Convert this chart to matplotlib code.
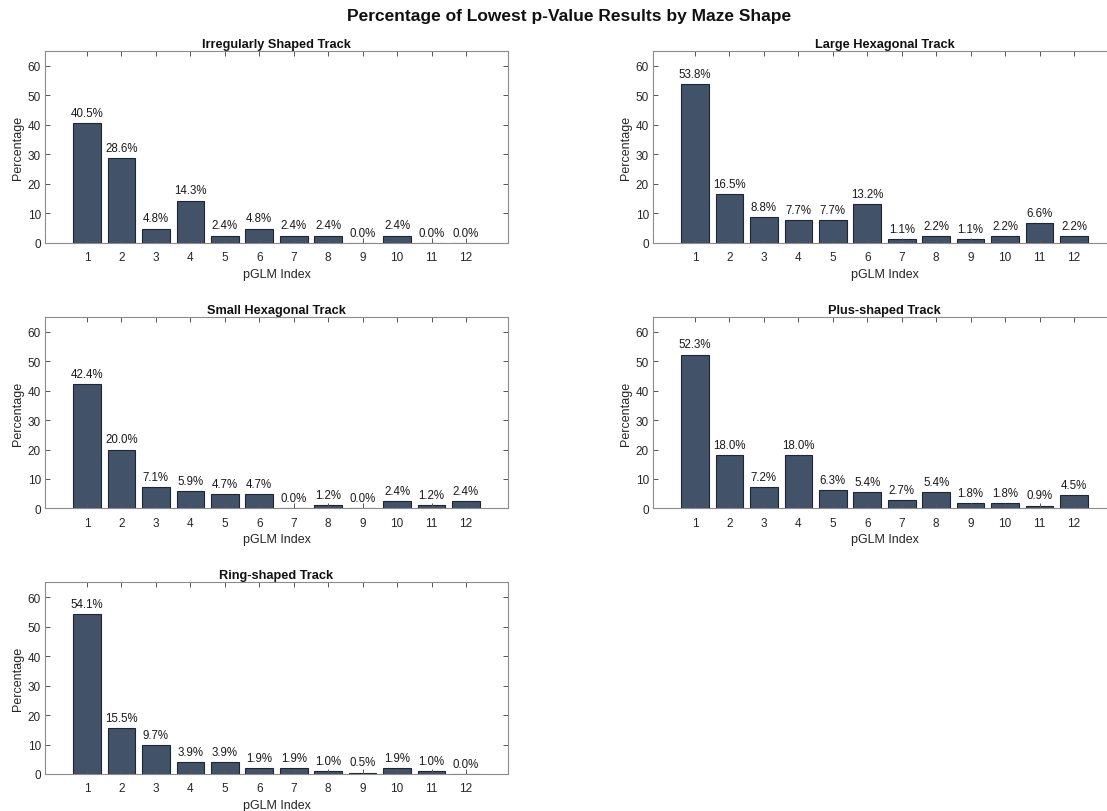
import matplotlib
matplotlib.use("Agg")
import matplotlib.pyplot as plt
import numpy as np

plt.rcParams['font.family'] = ['Liberation Sans', 'DejaVu Sans']

# pGLM index categories
pglm_index = list(range(1, 13))

# percentage of lowest p-value results per maze shape
irregular = [40.5, 28.6, 4.8, 14.3, 2.4, 4.8, 2.4, 2.4, 0.0, 2.4, 0.0, 0.0]
large_hex = [53.8, 16.5, 8.8, 7.7, 7.7, 13.2, 1.1, 2.2, 1.1, 2.2, 6.6, 2.2]
small_hex = [42.4, 20.0, 7.1, 5.9, 4.7, 4.7, 0.0, 1.2, 0.0, 2.4, 1.2, 2.4]
plus_shaped = [52.3, 18.0, 7.2, 18.0, 6.3, 5.4, 2.7, 5.4, 1.8, 1.8, 0.9, 4.5]
ring_shaped = [54.1, 15.5, 9.7, 3.9, 3.9, 1.9, 1.9, 1.0, 0.5, 1.9, 1.0, 0.0]

titles = ["Irregularly Shaped Track", "Large Hexagonal Track",
          "Small Hexagonal Track", "Plus-shaped Track", "Ring-shaped Track"]
series = [irregular, large_hex, small_hex, plus_shaped, ring_shaped]

W, H = 1107, 812
fig = plt.figure(figsize=(W / 100, H / 100), dpi=100)

bar_color = '#425268'
edge_color = '#1e2633'
spine_color = '#8c8c8c'
text_color = '#262626'

col_left = [45, 653]
ax_w = 463
rows = [(52, 243.7), (318.3, 509.3), (583.3, 775)]

for i, (title, vals) in enumerate(zip(titles, series)):
    r, c = divmod(i, 2)
    top, bot = rows[r]
    left = col_left[c]
    ax = fig.add_axes([left / W, 1 - bot / H, ax_w / W, (bot - top) / H])
    ax.bar(pglm_index, vals, width=0.8, color=bar_color,
           edgecolor=edge_color, linewidth=0.8, zorder=1)
    for x, v in zip(pglm_index, vals):
        ax.annotate(f"{v:.1f}%", (x, v), xytext=(0, 3),
                    textcoords='offset points', ha='center', va='bottom',
                    fontsize=8.3, color='#1a1a1a')
    ax.set_xlim(-0.22, 13.22)
    ax.set_ylim(0, 65)
    ax.set_xticks(pglm_index)
    ax.set_yticks(range(0, 61, 10))
    ax.set_axisbelow(False)
    ax.tick_params(direction='in', top=True, right=True, length=3.5,
                   width=0.7, color='#555555', labelsize=8.5,
                   labelcolor=text_color)
    ax.tick_params(axis='x', pad=6)
    ax.tick_params(axis='y', pad=3)
    for s in ax.spines.values():
        s.set_color(spine_color)
        s.set_linewidth(0.8)
        s.set_zorder(3)
    ax.set_title(title, fontsize=9.2, fontweight='bold', color='#111111', pad=3)
    ax.set_xlabel("pGLM Index", fontsize=9, color=text_color, labelpad=3.5)
    ax.set_ylabel("Percentage", fontsize=9, color=text_color, labelpad=2.5)

fig.suptitle("Percentage of Lowest p-Value Results by Maze Shape",
             x=569 / W, y=1 - 17 / H, fontsize=12.5, fontweight='bold',
             color='#111111', va='center')

fig.savefig("out.png", dpi=100)
